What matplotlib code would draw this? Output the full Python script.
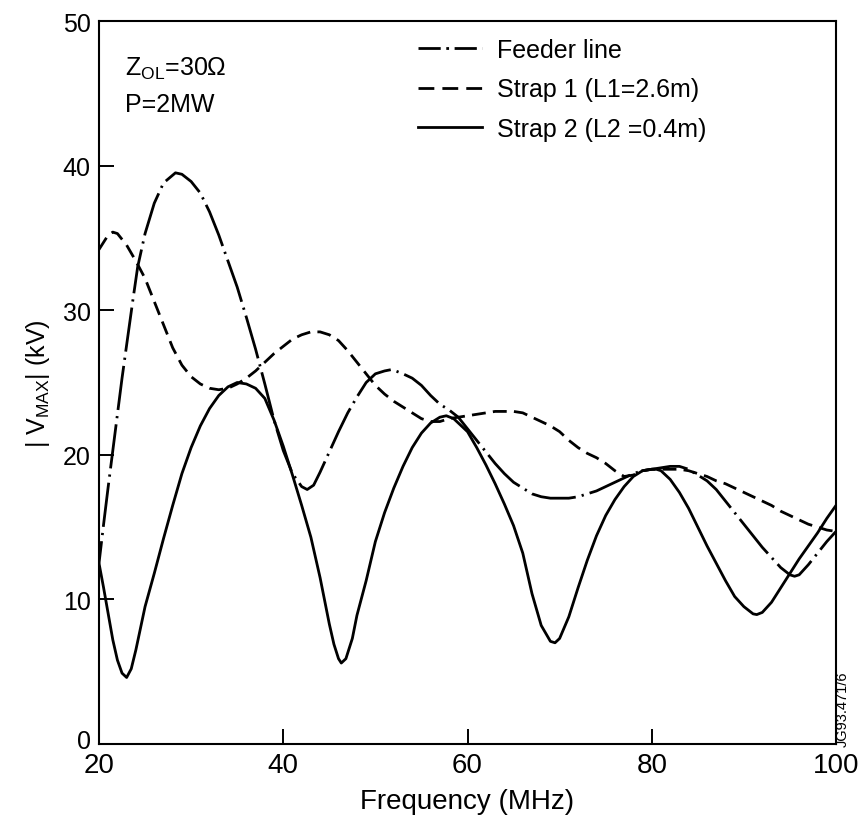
import matplotlib
matplotlib.use("Agg")
import matplotlib.pyplot as plt
import matplotlib.transforms as mtransforms
from matplotlib.lines import Line2D

plt.rcParams['font.family'] = ['Liberation Sans', 'DejaVu Sans']
plt.rcParams['mathtext.fontset'] = 'custom'
plt.rcParams['mathtext.rm'] = 'Liberation Sans'
plt.rcParams['mathtext.it'] = 'Liberation Sans:italic'
plt.rcParams['mathtext.bf'] = 'Liberation Sans:bold'

# ---- data ----
feeder_x = [20, 20.5, 21, 21.5, 22, 22.5, 23, 23.7, 24.2, 25, 26, 27, 28.3, 29, 30, 31, 32, 33, 34, 35,
            36, 37, 38, 39, 40, 41, 42, 42.6, 43.3, 44, 45, 46, 47, 48, 49, 50, 51, 51.8, 53, 54, 55, 56,
            57, 58, 59, 60, 61, 62, 63, 64, 65, 66, 67, 68, 69, 70, 71, 72, 73, 74, 75, 76, 77, 78, 79,
            80, 81, 82, 83, 84, 85, 86, 87, 88, 89, 90, 91, 92, 93, 94, 95, 95.5, 96, 97, 98, 99, 100]
feeder_y = [12.5, 15.2, 17.8, 20.3, 22.8, 25.3, 27.6, 30.8, 33.0, 35.3, 37.4, 38.8, 39.5, 39.4, 38.9,
            38.1, 36.8, 35.2, 33.4, 31.6, 29.5, 27.3, 24.9, 22.4, 20.3, 18.7, 17.8, 17.6, 17.9, 18.8,
            20.2, 21.6, 22.9, 24.0, 25.0, 25.6, 25.8, 25.9, 25.6, 25.3, 24.8, 24.1, 23.5, 23.1, 22.6,
            21.8, 21.0, 20.2, 19.4, 18.7, 18.1, 17.7, 17.3, 17.1, 17.0, 17.0, 17.0, 17.1, 17.3, 17.5,
            17.8, 18.1, 18.4, 18.7, 18.9, 19.0, 19.1, 19.2, 19.2, 19.0, 18.6, 18.2, 17.6, 16.8, 16.0,
            15.2, 14.4, 13.6, 12.9, 12.2, 11.7, 11.6, 11.7, 12.4, 13.2, 14.0, 14.7]

strap1_x = [20, 21, 21.5, 22, 23, 24, 25, 26, 27, 28, 29, 30, 31, 32, 33, 34, 35, 36, 37, 38, 39, 40,
            41, 42, 43, 44, 45, 46, 47, 48, 49, 50, 51, 52, 53, 54, 55, 56, 57, 58, 59, 60, 61, 62, 63,
            64, 65, 66, 67, 68, 69, 70, 71, 72, 73, 74, 75, 76, 77, 78, 79, 80, 81, 82, 83, 84, 85, 86,
            87, 88, 89, 90, 91, 92, 93, 94, 95, 96, 97, 98, 99, 100]
strap1_y = [34.2, 35.2, 35.4, 35.3, 34.5, 33.4, 32.2, 30.6, 29.0, 27.4, 26.2, 25.4, 24.9, 24.6, 24.5,
            24.6, 24.9, 25.3, 25.8, 26.4, 27.0, 27.5, 28.0, 28.3, 28.5, 28.5, 28.3, 27.9, 27.2, 26.4,
            25.6, 24.8, 24.2, 23.7, 23.3, 22.9, 22.5, 22.3, 22.3, 22.5, 22.6, 22.7, 22.8, 22.9, 23.0,
            23.0, 23.0, 22.9, 22.6, 22.3, 22.0, 21.6, 21.0, 20.5, 20.1, 19.8, 19.4, 18.9, 18.5, 18.6,
            18.9, 19.0, 19.0, 19.0, 19.0, 18.9, 18.7, 18.5, 18.2, 18.0, 17.7, 17.4, 17.1, 16.8, 16.5,
            16.1, 15.8, 15.5, 15.2, 15.0, 14.8, 14.7]

strap2_x = [20, 20.5, 21, 21.5, 22, 22.5, 23, 23.5, 24, 24.5, 25, 26, 27, 28, 29, 30, 31, 32, 33, 34,
            35, 36, 37, 38, 39, 40, 41, 42, 43, 44, 45, 45.5, 46, 46.3, 46.8, 47.5, 48, 49, 50, 51, 52,
            53, 54, 55, 56, 57, 57.7, 58.5, 59, 60, 61, 62, 63, 64, 65, 66, 67, 68, 69, 69.5, 70, 71, 72,
            73, 74, 75, 76, 77, 78, 79, 80, 80.5, 81, 82, 83, 84, 85, 86, 87, 88, 89, 90, 91, 91.4, 92,
            93, 94, 95, 96, 97, 98, 99, 100]
strap2_y = [12.5, 10.8, 9.0, 7.2, 5.8, 4.9, 4.6, 5.2, 6.5, 8.0, 9.5, 11.8, 14.2, 16.5, 18.7, 20.5, 22.0,
            23.2, 24.1, 24.7, 25.0, 24.9, 24.6, 23.9, 22.4, 20.6, 18.6, 16.5, 14.3, 11.5, 8.3, 6.9, 5.9,
            5.6, 5.9, 7.3, 8.9, 11.3, 14.0, 16.0, 17.7, 19.2, 20.5, 21.5, 22.2, 22.6, 22.7, 22.5, 22.2,
            21.6, 20.5, 19.3, 18.0, 16.6, 15.1, 13.2, 10.4, 8.2, 7.1, 7.0, 7.3, 8.8, 10.8, 12.7, 14.4,
            15.8, 16.9, 17.8, 18.5, 18.9, 19.0, 19.0, 18.9, 18.3, 17.4, 16.3, 15.0, 13.7, 12.5, 11.3,
            10.2, 9.5, 9.0, 8.95, 9.1, 9.8, 10.8, 11.8, 12.8, 13.7, 14.6, 15.6, 16.5]

labels = ["Feeder line", "Strap 1 (L1=2.6m)", "Strap 2 (L2 =0.4m)"]
x_ticks = [20, 40, 60, 80, 100]
y_ticks = [0, 10, 20, 30, 40, 50]

# ---- figure ----
fig = plt.figure(figsize=(8.61, 8.28), dpi=100)
ax = fig.add_axes([99/861, 1-745/828, (836-99)/861, (745-22)/828])

lw = 2.0
ax.plot(strap2_x, strap2_y, color='black', lw=lw, solid_capstyle='round')
ax.plot(strap1_x, strap1_y, color='black', lw=lw, dashes=(5, 2.6))
ax.plot(feeder_x, feeder_y, color='black', lw=lw, linestyle=(8, (16, 2.2, 0.8, 2.2)))

ax.set_xlim(20, 100)
ax.set_ylim(0, 50)
ax.set_xticks(x_ticks)
ax.set_yticks(y_ticks)
ax.tick_params(axis='x', direction='in', length=11, width=1.4, labelsize=20, pad=6)
ax.tick_params(axis='y', direction='in', length=11, width=1.4, labelsize=18, pad=6)
for s in ax.spines.values():
    s.set_linewidth(1.5)

# lift the "0" y tick label slightly so it clears the "20" x tick label
fig.canvas.draw()
ylabels = ax.get_yticklabels()
ylabels[0].set_transform(ylabels[0].get_transform() +
                         mtransforms.ScaledTranslation(0, 5/100, fig.dpi_scale_trans))

ax.set_xlabel("Frequency (MHz)", fontsize=20, labelpad=7)
ax.set_ylabel(r"| V$_{\mathrm{MAX}}$| (kV)", fontsize=18, labelpad=8)

fig.text(125/861, 1-76/828, r"Z$_{\mathrm{OL}}$=30Ω", fontsize=18, ha='left', va='baseline')
fig.text(125/861, 1-112/828, "P=2MW", fontsize=18, ha='left', va='baseline')

handles = [Line2D([], [], color='black', lw=lw, dashes=(8, 2, 1, 2)),
           Line2D([], [], color='black', lw=lw, dashes=(5.7, 2.9)),
           Line2D([], [], color='black', lw=lw)]
leg = ax.legend(handles, labels, loc='upper left', bbox_to_anchor=(418/861, 1-39/828),
                bbox_transform=fig.transFigure, frameon=False, fontsize=18,
                handlelength=2.56, handletextpad=0.6, labelspacing=0.62, borderpad=0,
                borderaxespad=0)

fig.text(843/861, 1-747/828, "JG93.471/6", rotation=90, fontsize=10.5, ha='center', va='bottom')

fig.savefig("out.png", dpi=100)
